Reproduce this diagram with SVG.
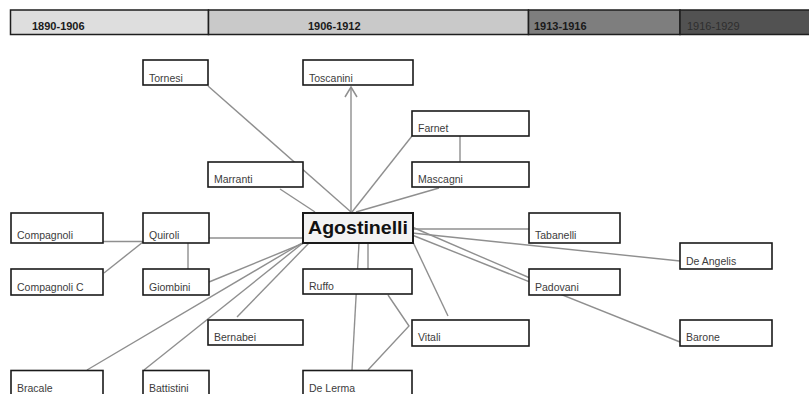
<svg xmlns="http://www.w3.org/2000/svg" width="809" height="394" viewBox="0 0 809 394">
<defs>
<style>
.box{fill:#fff;stroke:#1a1a1a;stroke-width:1.6}
.lbl{font-family:"Liberation Sans",Arial,sans-serif;font-size:10.5px;fill:#3c3c3c}
.hdr{font-family:"Liberation Sans",Arial,sans-serif;font-size:11px;font-weight:bold;fill:#1a1a1a}
.seg{stroke:#1e1e1e;stroke-width:1.5}
.con line,.con polyline{stroke:#8f8f8f;stroke-width:1.4;fill:none}
</style>
<marker id="arr" viewBox="0 0 12 14" refX="11" refY="7" markerWidth="12" markerHeight="14" markerUnits="userSpaceOnUse" orient="auto">
<path d="M1,1 L11,7 L1,13" fill="none" stroke="#8f8f8f" stroke-width="1.5"/>
</marker>
</defs>
<rect width="809" height="394" fill="#fff"/>
<g id="timeline">
<rect class="seg" x="10.5" y="10" width="198" height="24.5" fill="#dedede"/>
<rect class="seg" x="208.5" y="10" width="320" height="24.5" fill="#c9c9c9"/>
<rect class="seg" x="528.5" y="10" width="151.5" height="24.5" fill="#7e7e7e"/>
<rect class="seg" x="680" y="10" width="132" height="24.5" fill="#525252"/>
<text class="hdr" x="32" y="30">1890-1906</text>
<text class="hdr" x="308" y="30">1906-1912</text>
<text class="hdr" x="534" y="30">1913-1916</text>
<text class="hdr" x="687" y="30" style="font-weight:normal;fill:#2e2e2e">1916-1929</text>
</g>
<g id="connectors" class="con">
<line x1="208" y1="86" x2="351" y2="212"/>
<line x1="351" y1="212" x2="351" y2="87" marker-end="url(#arr)"/>
<line x1="412" y1="136" x2="352" y2="212"/>
<line x1="460" y1="136" x2="460" y2="162"/>
<line x1="439" y1="188" x2="356" y2="212"/>
<line x1="280" y1="189" x2="315" y2="212"/>
<line x1="103" y1="241.5" x2="143" y2="241.5"/>
<line x1="104" y1="273" x2="143" y2="242"/>
<line x1="188" y1="243" x2="188" y2="269"/>
<line x1="207" y1="238" x2="303" y2="238"/>
<line x1="209" y1="282" x2="304" y2="243"/>
<line x1="87" y1="370" x2="302" y2="243"/>
<line x1="144" y1="370" x2="303" y2="243"/>
<line x1="237" y1="317" x2="309" y2="243"/>
<line x1="368" y1="243" x2="368" y2="269"/>
<line x1="359" y1="243" x2="352" y2="370"/>
<polyline points="388,295 409,326 368,370"/>
<line x1="412" y1="240" x2="448" y2="316"/>
<line x1="412" y1="229" x2="529" y2="229"/>
<line x1="412" y1="233" x2="680" y2="261"/>
<line x1="412" y1="227" x2="530" y2="278"/>
<line x1="412" y1="235" x2="680" y2="342"/>
</g>
<g id="tornesi"><rect class="box" x="143" y="60" width="65" height="25"/><text class="lbl" x="149" y="81.5">Tornesi</text></g>
<g id="toscanini"><rect class="box" x="303" y="60" width="110" height="25"/><text class="lbl" x="309" y="81.5">Toscanini</text></g>
<g id="farnet"><rect class="box" x="412" y="111" width="117" height="25"/><text class="lbl" x="418" y="132">Farnet</text></g>
<g id="marranti"><rect class="box" x="208" y="162" width="95" height="25"/><text class="lbl" x="214" y="182.5">Marranti</text></g>
<g id="mascagni"><rect class="box" x="412" y="162" width="117" height="25"/><text class="lbl" x="418" y="182.5">Mascagni</text></g>
<g id="agostinelli"><rect class="box" x="303" y="213" width="110" height="30" style="fill:#f3f3f3;stroke-width:2"/><text x="308" y="234" textLength="100" lengthAdjust="spacingAndGlyphs" style="font-family:'Liberation Sans',Arial,sans-serif;font-size:17.5px;font-weight:bold;fill:#111">Agostinelli</text></g>
<g id="compagnoli"><rect class="box" x="11" y="213" width="92" height="30"/><text class="lbl" x="17" y="239">Compagnoli</text></g>
<g id="quiroli"><rect class="box" x="143" y="213" width="66" height="30"/><text class="lbl" x="149" y="239">Quiroli</text></g>
<g id="tabanelli"><rect class="box" x="529" y="213" width="91" height="30"/><text class="lbl" x="535" y="239">Tabanelli</text></g>
<g id="deangelis"><rect class="box" x="680" y="243" width="92" height="26"/><text class="lbl" x="686" y="265">De Angelis</text></g>
<g id="compagnolic"><rect class="box" x="11" y="269" width="92" height="26"/><text class="lbl" x="17" y="290.5">Compagnoli C</text></g>
<g id="giombini"><rect class="box" x="143" y="269" width="66" height="26"/><text class="lbl" x="149" y="290.5">Giombini</text></g>
<g id="ruffo"><rect class="box" x="303" y="269" width="109" height="25"/><text class="lbl" x="309" y="290">Ruffo</text></g>
<g id="padovani"><rect class="box" x="529" y="269" width="91" height="26"/><text class="lbl" x="535" y="290.5">Padovani</text></g>
<g id="bernabei"><rect class="box" x="208" y="320" width="95" height="25"/><text class="lbl" x="214" y="341">Bernabei</text></g>
<g id="vitali"><rect class="box" x="412" y="320" width="117" height="26"/><text class="lbl" x="418" y="341">Vitali</text></g>
<g id="barone"><rect class="box" x="680" y="320" width="92" height="26"/><text class="lbl" x="686" y="341">Barone</text></g>
<g id="bracale"><rect class="box" x="11" y="370.5" width="92" height="30"/><text class="lbl" x="17" y="391.5">Bracale</text></g>
<g id="battistini"><rect class="box" x="143" y="370.5" width="66" height="30"/><text class="lbl" x="149" y="391.5">Battistini</text></g>
<g id="delerma"><rect class="box" x="303" y="370.5" width="109" height="30"/><text class="lbl" x="309" y="391.5">De Lerma</text></g>
</svg>
